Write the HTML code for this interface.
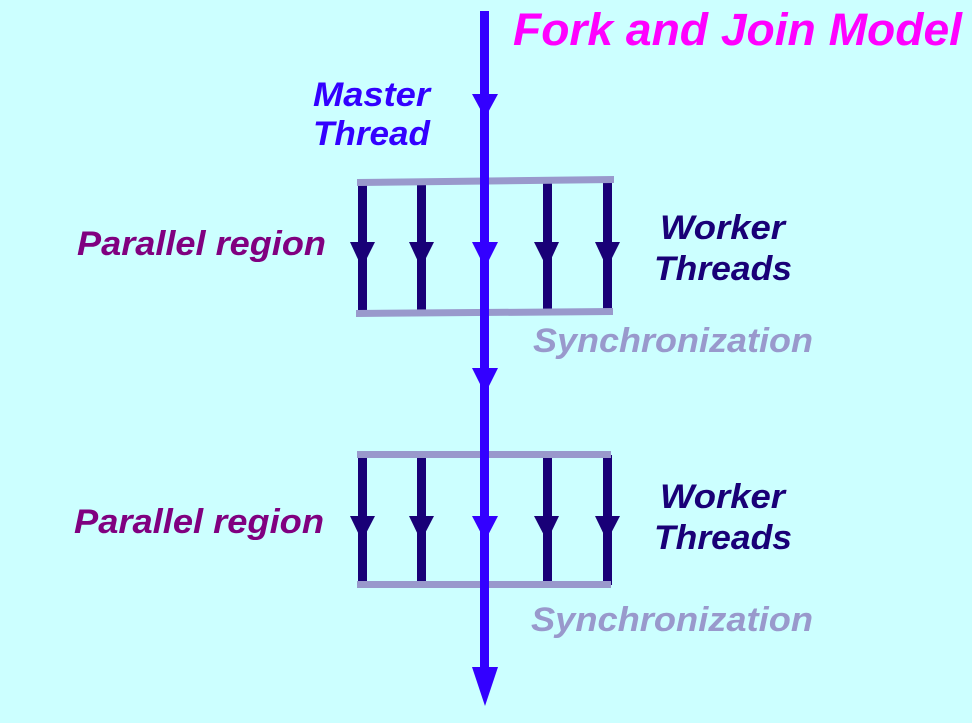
<!DOCTYPE html>
<html><head><style>html,body{margin:0;padding:0;background:#ccffff;}svg{display:block}</style></head>
<body>
<svg width="972" height="723" viewBox="0 0 972 723" xmlns="http://www.w3.org/2000/svg">
<rect width="972" height="723" fill="#ccffff"/>
<g font-family="Liberation Sans, sans-serif" font-weight="bold" font-style="italic">
<text x="513" y="45" font-size="45" fill="#ff00ff" textLength="449" lengthAdjust="spacingAndGlyphs">Fork and Join Model</text>
<text x="313" y="106" font-size="34" fill="#3300ff" textLength="117" lengthAdjust="spacingAndGlyphs">Master</text>
<text x="313" y="145" font-size="34" fill="#3300ff" textLength="117" lengthAdjust="spacingAndGlyphs">Thread</text>
<text x="77" y="255" font-size="34" fill="#800080" textLength="249" lengthAdjust="spacingAndGlyphs">Parallel region</text>
<text x="74" y="533" font-size="34" fill="#800080" textLength="250" lengthAdjust="spacingAndGlyphs">Parallel region</text>
<text x="660" y="239" font-size="34" fill="#190077" textLength="125" lengthAdjust="spacingAndGlyphs">Worker</text>
<text x="654" y="280" font-size="34" fill="#190077" textLength="138" lengthAdjust="spacingAndGlyphs">Threads</text>
<text x="660" y="508" font-size="34" fill="#190077" textLength="125" lengthAdjust="spacingAndGlyphs">Worker</text>
<text x="654" y="549" font-size="34" fill="#190077" textLength="138" lengthAdjust="spacingAndGlyphs">Threads</text>
<text x="533" y="352" font-size="34" fill="#9999cc" textLength="280" lengthAdjust="spacingAndGlyphs">Synchronization</text>
<text x="531" y="631" font-size="34" fill="#9999cc" textLength="282" lengthAdjust="spacingAndGlyphs">Synchronization</text>
</g>
<g fill="#190077">
<rect x="358" y="182" width="9" height="128"/><rect x="417" y="182" width="9" height="128"/>
<rect x="543" y="181" width="9" height="129"/><rect x="603" y="181" width="9" height="129"/>
<polygon points="350,242 375,242 362,268"/><polygon points="409,242 434,242 421,268"/>
<polygon points="534,242 559,242 547,268"/><polygon points="595,242 620,242 607,268"/>
<rect x="358" y="455" width="9" height="130"/><rect x="417" y="455" width="9" height="130"/>
<rect x="543" y="455" width="9" height="130"/><rect x="603" y="455" width="9" height="130"/>
<polygon points="350,516 375,516 362,541"/><polygon points="409,516 434,516 421,541"/>
<polygon points="534,516 559,516 547,541"/><polygon points="595,516 620,516 607,541"/>
</g>
<g fill="#9999cc">
<polygon points="357,179 614,176 614,183 357,186"/>
<polygon points="356,310 613,308 613,315 356,317"/>
<rect x="357" y="451" width="254" height="7"/>
<rect x="357" y="581" width="254" height="7"/>
</g>
<g fill="#3300ff">
<rect x="480" y="11" width="9" height="660"/>
<polygon points="472,94 498,94 485,118"/>
<polygon points="472,242 498,242 485,268"/>
<polygon points="472,368 498,368 485,394"/>
<polygon points="472,516 498,516 485,541"/>
<polygon points="472,667 498,667 485,706"/>
</g>
</svg>
</body></html>
